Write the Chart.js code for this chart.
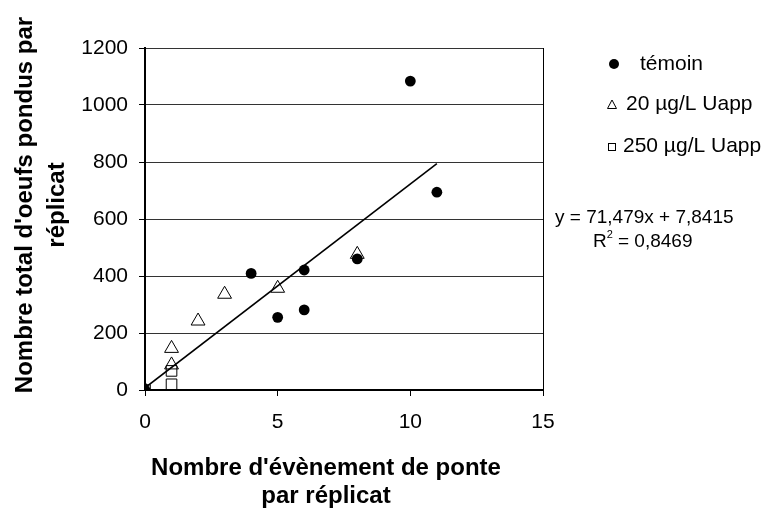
<!DOCTYPE html>
<html>
<head>
<meta charset="utf-8">
<script src="https://cdn.jsdelivr.net/npm/chart.js@4"></script>
<style>
  html, body { margin: 0; padding: 0; background: #fff; }
  #chart { display: block; }
</style>
</head>
<body>
<canvas id="chart" width="770" height="515"></canvas>
<script>
// Data
const temoinX = [0, 4, 5, 6, 6, 8, 10, 11];
const temoinY = [0, 409, 255, 421, 281, 460, 1084, 694];
const uapp20X = [0, 1, 1, 2, 3, 5, 8];
const uapp20Y = [0, 146, 88, 242, 336, 357, 476];
const uapp250X = [0, 1, 1];
const uapp250Y = [0, 67, 20];
const trendX = [0, 11];
const trendY = [7.84, 794.1];
const seriesNames = ['témoin', '20 µg/L Uapp', '250 µg/L Uapp'];
const xTicks = [0, 5, 10, 15];
const yTicks = [0, 200, 400, 600, 800, 1000, 1200];

const FONT = '"Liberation Sans", Arial, sans-serif';

function toPoints(xs, ys) {
  return xs.map((x, i) => ({ x, y: ys[i] }));
}

// titles, legend and regression text
const annotations = {
  id: 'annotations',
  afterDraw(chart) {
    const c = chart.ctx;
    c.save();
    c.fillStyle = '#000';
    c.strokeStyle = '#000';

    // axis titles
    c.font = 'bold 24px ' + FONT;
    c.textAlign = 'center';
    c.textBaseline = 'middle';
    c.fillText("Nombre d'évènement de ponte", 326, 468);
    c.fillText('par réplicat', 326, 496);

    c.save();
    c.translate(25, 205);
    c.rotate(-Math.PI / 2);
    c.fillText("Nombre total d'oeufs pondus par", 0, 0);
    c.fillText('réplicat', 0, 32);
    c.restore();

    // legend
    c.font = '21px ' + FONT;
    c.textAlign = 'left';
    c.lineWidth = 1;
    c.beginPath();
    c.arc(614, 64, 5, 0, Math.PI * 2);
    c.fill();
    c.fillText(seriesNames[0], 640, 64);

    c.beginPath();
    c.moveTo(612, 100);
    c.lineTo(616.5, 108.5);
    c.lineTo(607.5, 108.5);
    c.closePath();
    c.stroke();
    c.fillText(seriesNames[1], 626, 104);
    c.strokeRect(608.5, 143.5, 7, 7);
    c.fillText(seriesNames[2], 623, 146);

    // regression equation
    c.font = '19px ' + FONT;
    c.fillText('y = 71,479x + 7,8415', 555, 218);
    c.fillText('R', 593, 242);
    const rw = c.measureText('R').width;
    c.font = '11px ' + FONT;
    c.fillText('2', 593 + rw, 235);
    c.font = '19px ' + FONT;
    c.fillText(' = 0,8469', 593 + rw + 6, 242);
    c.restore();
  }
};

new Chart(document.getElementById('chart'), {
  type: 'scatter',
  data: {
    datasets: [{
      label: seriesNames[0],
      data: toPoints(temoinX, temoinY),
      pointStyle: 'circle',
      pointRadius: 5.4,
      backgroundColor: '#000',
      borderColor: '#000',
      borderWidth: 0
    }, {
      label: seriesNames[1],
      data: toPoints(uapp20X, uapp20Y),
      pointStyle: 'triangle',
      pointRadius: 8,
      backgroundColor: 'rgba(0,0,0,0)',
      borderColor: '#000',
      borderWidth: 1
    }, {
      label: seriesNames[2],
      data: toPoints(uapp250X, uapp250Y),
      pointStyle: 'rect',
      pointRadius: 7.5,
      backgroundColor: 'rgba(0,0,0,0)',
      borderColor: '#000',
      borderWidth: 1
    }, {
      label: 'tendance',
      data: toPoints(trendX, trendY),
      showLine: true,
      pointRadius: 0,
      borderColor: '#000',
      borderWidth: 1.6
    }]
  },
  options: {
    responsive: false,
    animation: false,
    layout: { padding: { top: 48, right: 227, left: 0, bottom: 0 } },
    plugins: {
      legend: { display: false },
      tooltip: { enabled: false }
    },
    scales: {
      x: {
        type: 'linear',
        min: 0,
        max: 15,
        afterBuildTicks: s => { s.ticks = xTicks.map(v => ({ value: v })); },
        afterFit: s => { s.height = 125; },
        ticks: {
          color: '#000',
          font: { family: FONT, size: 21 },
          padding: 14,
          callback: v => String(v)
        },
        grid: {
          color: ctx => (ctx.tick && ctx.tick.value === 15 ? '#000' : 'rgba(0,0,0,0)'),
          tickColor: '#000',
          tickLength: 6,
          lineWidth: 1
        },
        border: { color: '#000', width: 2 }
      },
      y: {
        min: 0,
        max: 1200,
        afterBuildTicks: s => { s.ticks = yTicks.map(v => ({ value: v })); },
        afterFit: s => { s.width = 145; },
        ticks: {
          color: '#000',
          font: { family: FONT, size: 21 },
          padding: 11,
          callback: v => String(v)
        },
        grid: {
          color: '#333',
          tickColor: '#000',
          tickLength: 6,
          lineWidth: 1
        },
        border: { color: '#000', width: 2 }
      }
    }
  },
  plugins: [annotations]
});
</script>
</body>
</html>
